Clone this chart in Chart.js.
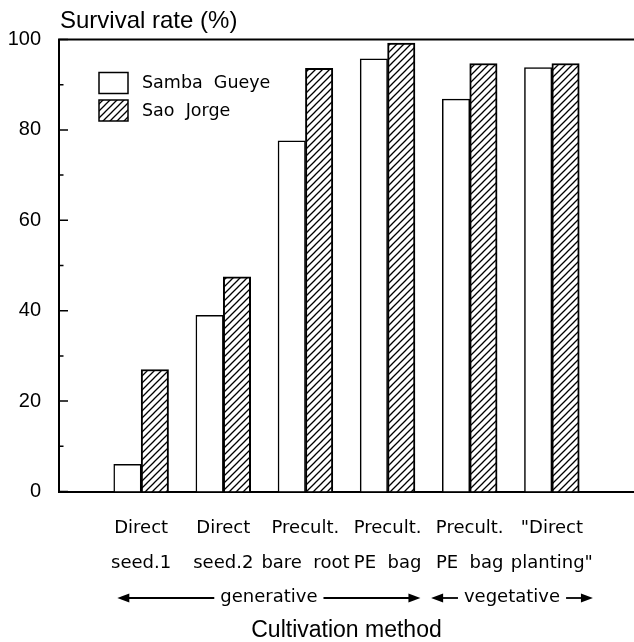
<!DOCTYPE html>
<html>
<head>
<meta charset="utf-8">
<script src="https://cdn.jsdelivr.net/npm/chart.js@4.4.0/dist/chart.umd.min.js"></script>
<style>
  html, body { margin: 0; padding: 0; background: #fff; }
  #wrap { width: 634px; height: 642px; }
</style>
</head>
<body>
<div id="wrap"><canvas id="survivalChart"></canvas></div>
<script>
// Values
const methods = [
    ['Direct', 'seed.1'],
    ['Direct', 'seed.2'],
    ['Precult.', 'bare  root'],
    ['Precult.', 'PE  bag'],
    ['Precult.', 'PE  bag'],
    ['"Direct', 'planting"']
];
const sambaGueye = [6, 39, 77.6, 95.7, 86.8, 93.8];
const saoJorge = [27, 47.5, 93.6, 99.2, 94.7, 94.7];
const yTicks = [0, 20, 40, 60, 80, 100];
const yMinorTicks = [10, 30, 50, 70, 90];
const groups = ['generative', 'vegetative'];
const groupSpans = [[0.71, 4.4], [4.53, 6.5]];

const ctx = document.getElementById('survivalChart').getContext('2d');

// Diagonal hatching for the second cultivar
function hatch(target) {
    const c = document.createElement('canvas');
    c.width = 7; c.height = 7;
    const g = c.getContext('2d');
    g.fillStyle = '#fff';
    g.fillRect(0, 0, 7, 7);
    g.strokeStyle = '#000';
    g.lineWidth = 1.3;
    g.beginPath();
    g.moveTo(-1, 8); g.lineTo(8, -1);
    g.moveTo(-1, 1); g.lineTo(1, -1);
    g.moveTo(6, 8); g.lineTo(8, 6);
    g.stroke();
    return target.createPattern(c, 'repeat');
}

function arrowLine(c, from, to, y) {
    const dir = Math.sign(to - from);
    c.beginPath();
    c.moveTo(from, y);
    c.lineTo(to - dir * 9, y);
    c.stroke();
    c.beginPath();
    c.moveTo(to, y);
    c.lineTo(to - dir * 12, y - 4.5);
    c.lineTo(to - dir * 12, y + 4.5);
    c.closePath();
    c.fill();
}

// Inner tick marks, top frame line, legend, axis caption and group arrows
const frame = {
    id: 'frame',
    afterDatasetsDraw(chart) {
        const c = chart.ctx;
        const { left, right } = chart.chartArea;
        const y = chart.scales.y;
        c.save();
        c.strokeStyle = '#000';
        c.lineWidth = 1.5;
        c.beginPath();
        yTicks.forEach(v => { const p = y.getPixelForValue(v); c.moveTo(left, p); c.lineTo(left + 9, p); });
        yMinorTicks.forEach(v => { const p = y.getPixelForValue(v); c.moveTo(left, p); c.lineTo(left + 4.5, p); });
        c.stroke();
        c.lineWidth = 2;
        c.beginPath();
        c.moveTo(left - 1, y.getPixelForValue(100));
        c.lineTo(right, y.getPixelForValue(100));
        c.stroke();
        c.restore();
    },
    afterDraw(chart) {
        const c = chart.ctx;
        const { left, top } = chart.chartArea;
        const x = chart.scales.x;
        c.save();
        c.fillStyle = '#000';
        c.strokeStyle = '#000';

        // y axis caption
        c.font = '24px "Liberation Sans", Arial, sans-serif';
        c.textBaseline = 'middle';
        c.textAlign = 'left';
        c.fillText('Survival rate (%)', left + 1, top - 18.5);

        // legend
        c.font = '17.5px "DejaVu Sans", sans-serif';
        chart.data.datasets.forEach((ds, i) => {
            const bx = left + 40, by = top + 33 + i * 27.5;
            c.fillStyle = ds.backgroundColor;
            c.fillRect(bx, by, 29, 21);
            c.lineWidth = 1.5;
            c.strokeRect(bx, by, 29, 21);
            c.fillStyle = '#000';
            c.fillText(ds.label, left + 83, by + 11);
        });

        // generative / vegetative arrows
        c.font = '18px "DejaVu Sans", sans-serif';
        c.textAlign = 'center';
        c.lineWidth = 1.8;
        const ay = 597;
        groups.forEach((name, i) => {
            const p0 = x.getPixelForValue(groupSpans[i][0]);
            const p1 = x.getPixelForValue(groupSpans[i][1]);
            const mid = (p0 + p1) / 2;
            const w = c.measureText(name).width;
            c.fillText(name, mid, ay);
            arrowLine(c, mid - w / 2 - 6, p0, ay + 1);
            arrowLine(c, mid + w / 2 + 6, p1, ay + 1);
        });
        c.restore();
    }
};

const survivalChart = new Chart(ctx, {
    type: 'bar',
    data: {
        datasets: [{
            label: 'Samba  Gueye',
            data: sambaGueye.map((v, i) => ({ x: i + 1, y: v })),
            backgroundColor: '#fff',
            borderColor: '#000',
            borderWidth: 1.5,
            barThickness: 27.4
        }, {
            label: 'Sao  Jorge',
            data: saoJorge.map((v, i) => ({ x: i + 1, y: v })),
            backgroundColor: hatch(ctx),
            borderColor: '#000',
            borderWidth: 2,
            barThickness: 27.4
        }]
    },
    options: {
        responsive: true,
        maintainAspectRatio: false,
        animation: false,
        layout: { padding: { top: 39.5, right: 0, left: 0, bottom: 0 } },
        plugins: {
            legend: { display: false },
            tooltip: { enabled: false }
        },
        scales: {
            x: {
                type: 'linear',
                min: 0,
                max: 7,
                offset: false,
                grid: { display: false },
                border: { color: '#000', width: 2 },
                afterBuildTicks: s => { s.ticks = methods.map((m, i) => ({ value: i + 1 })); },
                ticks: {
                    autoSkip: false,
                    maxRotation: 0,
                    padding: 11,
                    color: '#000',
                    font: { family: '"DejaVu Sans", sans-serif', size: 18, lineHeight: 35 / 18 },
                    callback: v => methods[v - 1] || ''
                },
                title: {
                    display: true,
                    text: 'Cultivation method',
                    color: '#000',
                    font: { family: '"Liberation Sans", Arial, sans-serif', size: 23, lineHeight: 1 },
                    padding: { top: 0, bottom: 0 }
                },
                afterFit: s => { s.height = 150.5; }
            },
            y: {
                min: 0,
                max: 100,
                grid: { display: false },
                border: { color: '#000', width: 2 },
                afterBuildTicks: s => { s.ticks = yTicks.map(v => ({ value: v })); },
                ticks: {
                    padding: 10,
                    color: '#000',
                    font: { family: '"Liberation Sans", Arial, sans-serif', size: 20 }
                },
                afterFit: s => { s.width = 59; }
            }
        }
    },
    plugins: [frame]
});
</script>
</body>
</html>
